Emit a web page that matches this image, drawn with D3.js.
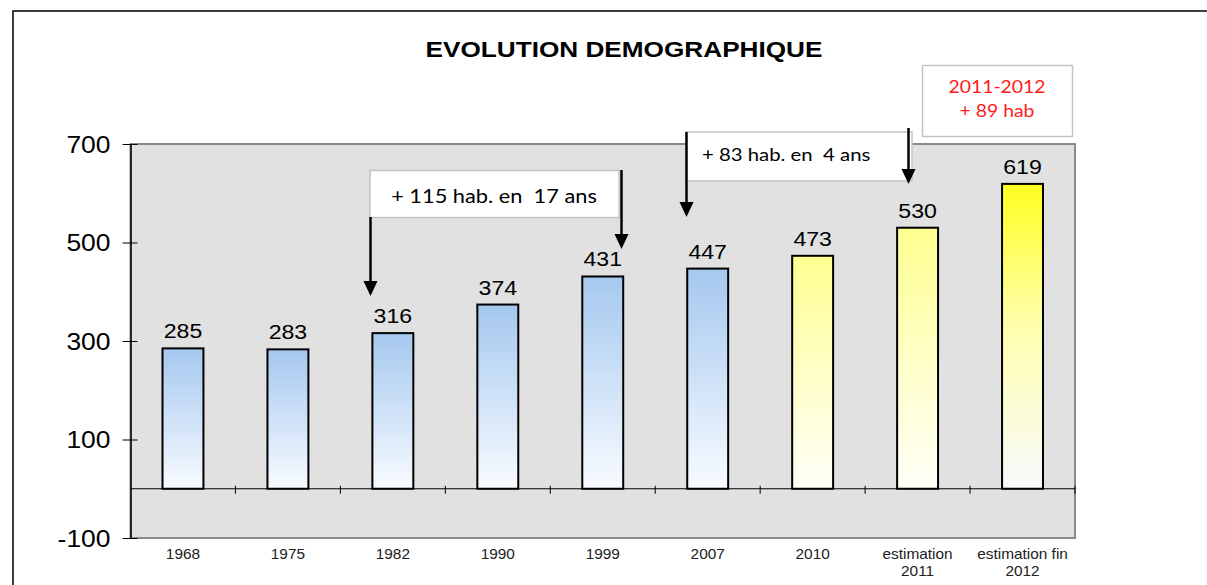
<!DOCTYPE html>
<html><head><meta charset="utf-8">
<script src="https://cdn.jsdelivr.net/npm/d3@7"></script>
<style>html,body{margin:0;padding:0;background:#fff;} svg{display:block;}</style>
</head><body>
<script>
const categories = ["1968","1975","1982","1990","1999","2007","2010","estimation\n2011","estimation fin\n2012"];
const values = [285,283,316,374,431,447,473,530,619];
const fillKind = ["blue","blue","blue","blue","blue","blue","paleYellow","paleYellow","yellow"];
const yTicks = [-100,100,300,500,700];
const title = "EVOLUTION DEMOGRAPHIQUE";
const note1 = "+ 115 hab. en  17 ans";
const note2 = "+ 83 hab. en  4 ans";
const note3 = ["2011-2012","+ 89 hab"];

const W = 1207, H = 585;
const svg = d3.select("body").append("svg").attr("width", W).attr("height", H);

const pLeft = 130.5, pRight = 1075, pTop = 144, pBottom = 538;
const x = d3.scaleBand().domain(categories).range([pLeft, pRight]).paddingInner(0.61).paddingOuter(0.305);
const y = d3.scaleLinear().domain([-100, 700]).range([pBottom, pTop]);

// horizontally stretched text helper
function stext(parent, tx, ty, s, str){
  return parent.append("text").attr("transform", `translate(${tx},${ty}) scale(${s},1)`).text(str);
}

const defs = svg.append("defs");
function grad(id, stops){
  const g = defs.append("linearGradient").attr("id", id).attr("x1",0).attr("y1",0).attr("x2",0).attr("y2",1);
  stops.forEach(([o,c]) => g.append("stop").attr("offset",o).attr("stop-color",c));
}
grad("blue", [["0%","#a5c8ef"],["100%","#f8fbff"]]);
grad("paleYellow", [["0%","#ffff90"],["55%","#ffffcc"],["100%","#fffff8"]]);
grad("yellow", [["0%","#ffff20"],["45%","#ffffaa"],["100%","#f7f9fc"]]);

// outer frame
svg.append("rect").attr("x", 13).attr("y", 11).attr("width", 1300).attr("height", 700)
  .attr("fill", "none").attr("stroke", "#000").attr("stroke-width", 1.5);

// plot area
svg.append("rect").attr("x", pLeft).attr("y", pTop).attr("width", pRight-pLeft).attr("height", pBottom-pTop)
  .attr("fill", "#e1e1e1").attr("stroke", "#8a8a8a").attr("stroke-width", 2);

// title
stext(svg, 624, 57, 1.19, title).attr("text-anchor","middle")
  .attr("font-family","Liberation Sans, Arial, sans-serif").attr("font-weight","bold").attr("font-size", 22);

// y axis
const yAxis = d3.axisLeft(y).tickValues(yTicks).tickFormat(d => String(d)).tickSize(8).tickSizeOuter(0).tickPadding(12);
const yg = svg.append("g").attr("transform", `translate(${pLeft},0)`).call(yAxis);
yg.select(".domain").attr("stroke","#000").attr("stroke-width",1.5);
yg.selectAll(".tick line").attr("x1", 7).attr("x2", -8).attr("stroke","#000");
yg.selectAll(".tick text").attr("font-family","Liberation Sans, Arial, sans-serif").attr("font-size", 23).attr("fill","#000")
  .attr("x", null).attr("dy", "0.35em").attr("transform", "translate(-20,0) scale(1.15,1)");

// zero line with boundary ticks
const y0 = y(0);
svg.append("line").attr("x1", pLeft).attr("x2", pRight).attr("y1", y0).attr("y2", y0).attr("stroke","#000").attr("stroke-width",1.2);
const step = x.step(), bw = x.bandwidth();
svg.append("g").selectAll("line").data(categories).join("line")
  .attr("x1", d => x(d) + bw + (step-bw)/2).attr("x2", d => x(d) + bw + (step-bw)/2)
  .attr("y1", y0 - 3).attr("y2", y0 + 5).attr("stroke","#000").attr("stroke-width",1);

// bars
svg.append("g").selectAll("rect").data(categories).join("rect")
  .attr("x", d => x(d)).attr("width", bw)
  .attr("y", (d,i) => y(values[i])).attr("height", (d,i) => y0 - y(values[i]))
  .attr("fill", (d,i) => `url(#${fillKind[i]})`).attr("stroke","#000").attr("stroke-width",2);

// value labels
svg.append("g").selectAll("text").data(categories).join("text")
  .attr("transform", (d,i) => `translate(${x(d) + bw/2},${y(values[i]) - 10}) scale(1.1,1)`)
  .attr("text-anchor","middle").attr("font-family","Liberation Sans, Arial, sans-serif").attr("font-size", 21)
  .text((d,i) => values[i]);

// x labels
const xg = svg.append("g").attr("font-family","Liberation Sans, Arial, sans-serif").attr("font-size", 14).attr("fill","#222").attr("text-anchor","middle");
categories.forEach(d => {
  d.split("\n").forEach((line, j) => {
    stext(xg, x(d) + bw/2, 559 + j*17, 1.1, line);
  });
});

// annotations
const noteFont = "Lato, Carlito, 'Open Sans', sans-serif";
function arrow(x0, ya, yb){
  svg.append("line").attr("x1", x0).attr("x2", x0).attr("y1", ya).attr("y2", yb - 12)
    .attr("stroke","#000").attr("stroke-width",2.5);
  svg.append("path").attr("d", `M${x0-7},${yb-15} L${x0+7},${yb-15} L${x0},${yb} Z`).attr("fill","#000");
}
// box 1
svg.append("rect").attr("x", 370).attr("y", 170.5).attr("width", 249).attr("height", 47)
  .attr("fill","#fff").attr("stroke","#c4c4c4").attr("stroke-width",1.5);
stext(svg, 494, 203, 1.09, note1).attr("text-anchor","middle")
  .attr("font-family", noteFont).attr("font-size", 20).style("white-space","pre");
arrow(370.5, 217, 296);
arrow(621.5, 170, 249);

// box 2
svg.append("rect").attr("x", 686).attr("y", 132).attr("width", 226).attr("height", 49)
  .attr("fill","#fff").attr("stroke","#c4c4c4").attr("stroke-width",1.5);
stext(svg, 702, 161, 1.13, note2)
  .attr("font-family", noteFont).attr("font-size", 18).style("white-space","pre");
arrow(686.5, 132, 217);
arrow(908.5, 128, 184);

// box 3
svg.append("rect").attr("x", 922.5).attr("y", 65.5).attr("width", 150).attr("height", 71)
  .attr("fill","#fff").attr("stroke","#c4c4c4").attr("stroke-width",1.5);
const g3 = svg.append("g").attr("font-family", noteFont).attr("font-size", 17).attr("fill","#ff1a1a").attr("text-anchor","middle");
note3.forEach((t, i) => stext(g3, 997, 93 + i*24, 1.14, t));
</script>
</body></html>
